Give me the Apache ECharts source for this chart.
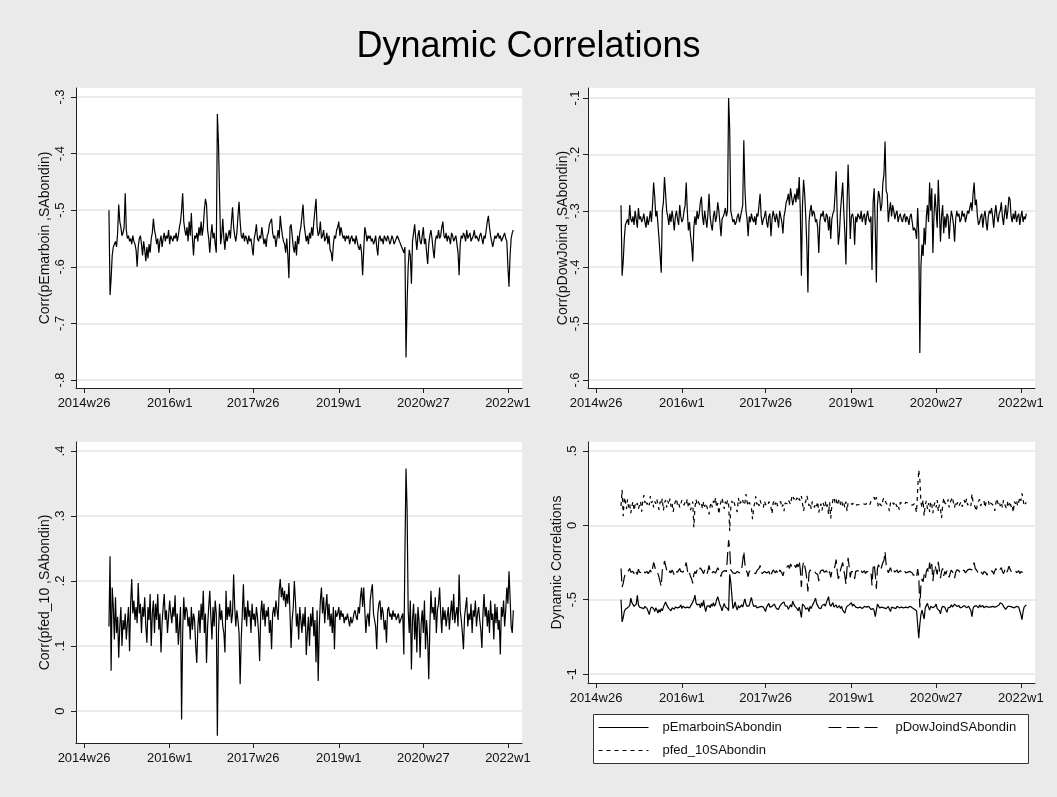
<!DOCTYPE html>
<html lang="en">
<head>
<meta charset="UTF-8">
<title>Dynamic Correlations</title>
<style>
  html, body { margin: 0; padding: 0; background: #eaeaea; }
  #chart { width: 1057px; height: 797px; }
</style>
</head>
<body>
<div id="chart"></div>
<script src="https://cdn.jsdelivr.net/npm/echarts@6.0.0/dist/echarts.min.js"></script>
<script>
// Stata weekly dates: t = (year-1960)*52 + (week-1)
var startWeek = 2856; // 2014w49, first observation
var tickWeeks = [2833, 2912, 2989, 3068, 3146, 3224];
var tickLabels = ['2014w26', '2016w1', '2017w26', '2019w1', '2020w27', '2022w1'];

var ticksEmar = [-0.8, -0.7, -0.6, -0.5, -0.4, -0.3];
var ticksDow = [-0.6, -0.5, -0.4, -0.3, -0.2, -0.1];
var ticksFed = [0, 0.1, 0.2, 0.3, 0.4];
var ticksAll = [-1, -0.5, 0, 0.5];

// pEmarboinSAbondin
var emar = [
  -0.50,-0.65,-0.62,-0.58,-0.565,-0.56,-0.555,-0.565,-0.54,-0.49,-0.52,-0.53,-0.545,-0.54,-0.53,-0.47,-0.535,-0.55,-0.545,-0.555,
  -0.55,-0.56,-0.545,-0.555,-0.56,-0.57,-0.60,-0.565,-0.55,-0.545,-0.56,-0.58,-0.555,-0.57,-0.59,-0.565,-0.585,-0.56,-0.575,-0.55,
  -0.54,-0.515,-0.535,-0.545,-0.56,-0.55,-0.575,-0.555,-0.545,-0.565,-0.55,-0.54,-0.555,-0.545,-0.55,-0.535,-0.56,-0.545,-0.55,-0.555,
  -0.545,-0.55,-0.54,-0.555,-0.545,-0.53,-0.52,-0.50,-0.47,-0.52,-0.535,-0.545,-0.53,-0.555,-0.52,-0.545,-0.505,-0.55,-0.58,-0.545,
  -0.55,-0.54,-0.555,-0.53,-0.545,-0.52,-0.545,-0.53,-0.50,-0.48,-0.49,-0.535,-0.55,-0.575,-0.545,-0.525,-0.55,-0.54,-0.56,-0.575,
  -0.33,-0.38,-0.47,-0.56,
  -0.545,-0.515,-0.55,-0.57,-0.54,-0.555,-0.545,-0.535,-0.55,-0.52,-0.495,-0.53,-0.545,-0.555,-0.54,-0.51,
  -0.485,-0.52,-0.545,-0.55,-0.54,-0.555,-0.545,-0.55,-0.56,-0.545,-0.555,-0.55,-0.565,-0.58,-0.55,-0.54,-0.525,-0.55,-0.555,-0.545,
  -0.55,-0.53,-0.545,-0.56,-0.55,-0.565,-0.545,-0.54,-0.525,-0.52,-0.515,-0.54,-0.55,-0.545,-0.565,-0.55,-0.535,-0.55,-0.51,-0.53,
  -0.545,-0.555,-0.56,-0.575,-0.55,-0.58,-0.62,-0.53,-0.525,-0.545,-0.565,-0.575,-0.555,-0.58,-0.545,-0.56,-0.54,-0.53,-0.51,-0.49,
  -0.525,-0.54,-0.555,-0.545,-0.56,-0.54,-0.55,-0.53,-0.545,-0.52,-0.50,-0.48,-0.53,-0.545,-0.54,-0.52,-0.55,-0.545,-0.535,-0.555,
  -0.55,-0.54,-0.56,-0.545,-0.57,-0.575,-0.59,-0.56,-0.545,-0.55,-0.535,-0.53,-0.52,-0.545,-0.53,-0.54,-0.55,-0.545,-0.555,-0.545,
  -0.55,-0.545,-0.56,-0.55,-0.545,-0.555,-0.55,-0.56,-0.545,-0.555,-0.565,-0.57,-0.56,-0.575,-0.615,-0.57,-0.53,-0.54,-0.555,-0.545,
  -0.55,-0.545,-0.555,-0.55,-0.56,-0.555,-0.545,-0.565,-0.58,-0.55,-0.545,-0.555,-0.55,-0.56,-0.545,-0.55,-0.555,-0.545,-0.55,-0.56,
  -0.555,-0.545,-0.55,-0.56,-0.555,-0.55,-0.545,-0.55,-0.555,-0.56,-0.565,-0.57,-0.575,-0.565,-0.76,-0.665,-0.60,-0.57,-0.58,-0.63,
  -0.555,-0.54,-0.525,-0.55,-0.57,-0.545,-0.535,-0.555,-0.56,-0.545,-0.53,-0.56,-0.55,-0.575,-0.595,-0.56,-0.545,-0.535,-0.55,-0.57,
  -0.585,-0.555,-0.545,-0.55,-0.535,-0.55,-0.545,-0.53,-0.52,-0.545,-0.55,-0.54,-0.555,-0.545,-0.55,-0.56,-0.54,-0.545,-0.555,-0.55,
  -0.545,-0.56,-0.575,-0.615,-0.56,-0.545,-0.55,-0.54,-0.545,-0.555,-0.535,-0.55,-0.545,-0.54,-0.555,-0.55,-0.545,-0.535,-0.55,-0.545,
  -0.55,-0.555,-0.545,-0.54,-0.55,-0.56,-0.545,-0.55,-0.535,-0.52,-0.51,-0.53,-0.545,-0.555,-0.565,-0.555,-0.545,-0.55,-0.545,-0.54,
  -0.55,-0.545,-0.555,-0.55,-0.545,-0.54,-0.55,-0.555,-0.60,-0.635,-0.58,-0.55,-0.54,-0.535
];

// pDowJoindSAbondin
var dow = [
  -0.29,-0.415,-0.39,-0.35,-0.325,-0.32,-0.315,-0.325,-0.29,-0.315,-0.32,-0.31,-0.325,-0.30,-0.315,-0.33,-0.295,-0.315,-0.31,-0.32,
  -0.315,-0.305,-0.32,-0.33,-0.31,-0.325,-0.315,-0.30,-0.32,-0.29,-0.25,-0.275,-0.31,-0.30,-0.325,-0.35,-0.38,-0.41,-0.30,-0.285,
  -0.24,-0.27,-0.30,-0.31,-0.325,-0.305,-0.32,-0.30,-0.315,-0.335,-0.31,-0.30,-0.315,-0.325,-0.29,-0.31,-0.32,-0.315,-0.30,-0.29,
  -0.25,-0.30,-0.335,-0.32,-0.345,-0.36,-0.39,-0.33,-0.31,-0.325,-0.30,-0.315,-0.305,-0.285,-0.275,-0.31,-0.325,-0.30,-0.315,-0.33,
  -0.305,-0.27,-0.31,-0.325,-0.335,-0.31,-0.30,-0.32,-0.31,-0.285,-0.30,-0.32,-0.345,-0.315,-0.31,-0.305,-0.295,-0.31,-0.30,-0.10,
  -0.155,-0.30,-0.31,-0.32,-0.315,-0.325,-0.32,-0.31,-0.305,-0.32,-0.31,-0.30,-0.29,-0.175,-0.26,-0.30,-0.315,-0.345,-0.31,-0.32,
  -0.305,-0.315,-0.32,-0.31,-0.325,-0.305,-0.31,-0.29,-0.27,-0.31,-0.325,-0.315,-0.31,-0.30,-0.32,-0.33,-0.31,-0.305,-0.345,-0.315,
  -0.30,-0.31,-0.32,-0.305,-0.315,-0.33,-0.30,-0.31,-0.32,-0.34,-0.31,-0.30,-0.285,-0.28,-0.27,-0.29,-0.26,-0.275,-0.29,-0.28,
  -0.27,-0.285,-0.26,-0.28,-0.24,-0.30,-0.415,-0.29,-0.245,-0.27,-0.31,-0.36,-0.445,-0.32,-0.30,-0.29,-0.31,-0.30,-0.305,-0.32,
  -0.315,-0.33,-0.375,-0.32,-0.305,-0.31,-0.30,-0.315,-0.32,-0.305,-0.31,-0.335,-0.31,-0.35,-0.315,-0.305,-0.30,-0.27,-0.23,-0.31,
  -0.36,-0.34,-0.30,-0.275,-0.25,-0.30,-0.34,-0.395,-0.29,-0.218,-0.28,-0.35,-0.31,-0.305,-0.315,-0.36,-0.31,-0.32,-0.305,-0.31,
  -0.315,-0.30,-0.32,-0.31,-0.305,-0.325,-0.31,-0.30,-0.315,-0.32,-0.31,-0.405,-0.285,-0.26,-0.33,-0.427,-0.29,-0.265,-0.275,-0.30,
  -0.29,-0.25,-0.235,-0.177,-0.265,-0.27,-0.32,-0.30,-0.285,-0.31,-0.29,-0.30,-0.315,-0.305,-0.30,-0.32,-0.31,-0.305,-0.315,-0.32,
  -0.31,-0.305,-0.32,-0.31,-0.315,-0.325,-0.31,-0.305,-0.32,-0.335,-0.33,-0.335,-0.35,-0.295,-0.34,-0.552,-0.40,-0.36,-0.38,-0.33,
  -0.36,-0.31,-0.29,-0.32,-0.25,-0.30,-0.26,-0.375,-0.31,-0.27,-0.30,-0.33,-0.245,-0.30,-0.355,-0.31,-0.29,-0.34,-0.31,-0.33,
  -0.305,-0.31,-0.35,-0.32,-0.30,-0.31,-0.325,-0.355,-0.315,-0.30,-0.31,-0.305,-0.32,-0.315,-0.30,-0.31,-0.305,-0.32,-0.31,-0.30,
  -0.305,-0.295,-0.285,-0.30,-0.27,-0.25,-0.29,-0.28,-0.31,-0.325,-0.32,-0.31,-0.305,-0.33,-0.31,-0.30,-0.32,-0.335,-0.31,-0.30,
  -0.305,-0.295,-0.31,-0.33,-0.305,-0.29,-0.31,-0.32,-0.305,-0.30,-0.285,-0.31,-0.325,-0.305,-0.29,-0.315,-0.30,-0.275,-0.28,-0.31,
  -0.32,-0.305,-0.315,-0.30,-0.32,-0.31,-0.305,-0.325,-0.31,-0.30,-0.32,-0.31,-0.315,-0.305
];

// pfed_10SAbondin
var fed = [
  0.13,0.238,0.062,0.19,0.16,0.11,0.175,0.12,0.145,0.082,0.13,0.16,0.10,0.14,0.125,0.15,0.11,0.135,0.16,0.092,
  0.165,0.203,0.15,0.17,0.14,0.16,0.135,0.197,0.15,0.165,0.12,0.16,0.145,0.175,0.13,0.105,0.16,0.14,0.18,0.10,
  0.15,0.17,0.12,0.165,0.14,0.18,0.125,0.15,0.09,0.135,0.16,0.18,0.14,0.155,0.12,0.145,0.17,0.15,0.135,0.16,
  0.145,0.178,0.12,0.15,0.102,0.13,0.16,-0.013,0.12,0.175,0.14,0.16,0.155,0.13,0.145,0.11,0.16,0.125,0.15,0.14,
  0.10,0.074,0.13,0.155,0.12,0.165,0.14,0.185,0.12,0.15,0.074,0.13,0.16,0.185,0.145,0.11,0.16,0.13,0.17,0.15,
  -0.038,0.12,0.165,0.14,0.155,0.13,0.12,0.09,0.185,0.14,0.16,0.145,0.17,0.135,0.15,0.21,0.16,0.13,0.155,0.14,
  0.12,0.041,0.11,0.15,0.195,0.14,0.16,0.13,0.17,0.145,0.155,0.12,0.165,0.14,0.15,0.13,0.16,0.145,0.12,0.077,
  0.15,0.17,0.14,0.165,0.13,0.155,0.145,0.16,0.12,0.14,0.095,0.15,0.16,0.145,0.17,0.155,0.14,0.185,0.203,0.175,
  0.19,0.17,0.185,0.16,0.18,0.165,0.197,0.15,0.097,0.14,0.16,0.20,0.17,0.13,0.15,0.11,0.16,0.14,0.12,0.15,
  0.13,0.16,0.086,0.12,0.145,0.10,0.15,0.13,0.16,0.115,0.14,0.075,0.155,0.046,0.13,0.17,0.19,0.15,0.175,0.135,
  0.16,0.18,0.14,0.165,0.13,0.15,0.12,0.16,0.095,0.155,0.145,0.15,0.16,0.14,0.155,0.145,0.15,0.135,0.145,0.14,
  0.15,0.14,0.13,0.145,0.135,0.14,0.15,0.155,0.145,0.14,0.16,0.15,0.175,0.19,0.16,0.19,0.155,0.12,0.145,0.15,
  0.13,0.17,0.185,0.195,0.15,0.14,0.13,0.095,0.15,0.165,0.17,0.14,0.16,0.15,0.125,0.14,0.105,0.155,0.16,0.145,
  0.15,0.14,0.155,0.145,0.15,0.14,0.145,0.15,0.135,0.14,0.145,0.15,0.087,0.24,0.373,0.31,0.155,0.12,0.17,0.064,
  0.14,0.165,0.11,0.15,0.09,0.16,0.14,0.082,0.135,0.155,0.12,0.17,0.095,0.14,0.11,0.049,0.13,0.185,0.15,0.16,
  0.14,0.175,0.12,0.155,0.165,0.19,0.15,0.12,0.16,0.14,0.155,0.13,0.145,0.16,0.125,0.15,0.17,0.14,0.18,0.135,
  0.15,0.16,0.13,0.21,0.155,0.14,0.12,0.095,0.145,0.16,0.175,0.13,0.15,0.14,0.165,0.12,0.155,0.145,0.17,0.13,
  0.15,0.16,0.14,0.125,0.097,0.15,0.18,0.145,0.16,0.13,0.155,0.12,0.17,0.14,0.15,0.11,0.165,0.135,0.16,0.125,
  0.14,0.087,0.16,0.145,0.17,0.13,0.155,0.19,0.165,0.215,0.175,0.13,0.12,0.155
];

var FONT = '"Liberation Sans", Arial, sans-serif';

function pairs(arr) {
  return arr.map(function (v, i) { return [startWeek + i, v]; });
}

function yFmt(v) {
  var s = String(Math.round(v * 10) / 10);
  return s.replace('0.', '.');
}

function xAxis(idx) {
  return {
    type: 'value', gridIndex: idx, min: 2825.6, max: 3237,
    axisLine: { onZero: false, lineStyle: { color: '#222', width: 1 } },
    axisTick: { customValues: tickWeeks, length: 5, lineStyle: { color: '#222' } },
    axisLabel: {
      customValues: tickWeeks, margin: 9, color: '#111', fontSize: 13, fontFamily: FONT,
      formatter: function (v) { return tickLabels[tickWeeks.indexOf(Math.round(v))]; }
    },
    splitLine: { show: false }
  };
}

function yAxis(idx, min, max, ticks, name, gap, margin, split) {
  return {
    type: 'value', gridIndex: idx, min: min, max: max, splitNumber: split,
    name: name, nameLocation: 'middle', nameGap: gap, nameRotate: 90, nameMoveOverlap: false,
    nameTextStyle: { fontSize: 14, color: '#111', fontFamily: FONT },
    axisLine: { show: true, onZero: false, lineStyle: { color: '#222', width: 1 } },
    axisTick: { show: true, customValues: ticks, length: 5, lineStyle: { color: '#222' } },
    axisLabel: {
      customValues: ticks, rotate: 90, margin: margin, color: '#111', fontSize: 13, fontFamily: FONT,
      formatter: yFmt
    },
    splitLine: { show: true, lineStyle: { color: '#e4e4e4', width: 1.5 } }
  };
}

function line(name, data, xi, yi, dash) {
  return {
    name: name, type: 'line', xAxisIndex: xi, yAxisIndex: yi,
    data: pairs(data), symbol: 'none', showSymbol: false,
    lineStyle: { color: '#000', width: 1.2, type: dash || 'solid' },
    itemStyle: { color: '#000' },
    animation: false, silent: true
  };
}

function legendItem(name, left, top, gap) {
  return {
    data: [name], left: left, top: top, padding: 0, itemWidth: 50, itemHeight: 14,
    itemStyle: { opacity: 0 },
    lineStyle: { width: 1 },
    textStyle: { fontSize: 13, color: '#111', fontFamily: FONT, padding: [0, 0, 0, gap] },
    selectedMode: false
  };
}

var chart = echarts.init(document.getElementById('chart'));
chart.setOption({
  backgroundColor: '#eaeaea',
  animation: false,
  title: {
    text: 'Dynamic Correlations', left: 'center', top: 24,
    textStyle: { fontSize: 36, fontWeight: 'normal', color: '#000', fontFamily: FONT }
  },
  grid: [
    { left: 76, top: 88, width: 446, height: 300, show: true, backgroundColor: '#fff', borderWidth: 0 },
    { left: 588, top: 88, width: 447, height: 300, show: true, backgroundColor: '#fff', borderWidth: 0 },
    { left: 76, top: 442, width: 446, height: 301, show: true, backgroundColor: '#fff', borderWidth: 0 },
    { left: 588, top: 442, width: 447, height: 241, show: true, backgroundColor: '#fff', borderWidth: 0 }
  ],
  xAxis: [xAxis(0), xAxis(1), xAxis(2), xAxis(3)],
  yAxis: [
    yAxis(0, -0.8141, -0.2841, ticksEmar, 'Corr(pEmarboin ,SAbondin)', 24, 9, 5),
    yAxis(1, -0.6142, -0.0823, ticksDow, 'Corr(pDowJoind ,SAbondin)', 18, 6, 5),
    yAxis(2, -0.0492, 0.4138, ticksFed, 'Corr(pfed_10 ,SAbondin)', 24, 9, 5),
    yAxis(3, -1.0605, 0.5605, ticksAll, 'Dynamic Correlations', 24, 9, 3)
  ],
  legend: [
    legendItem('pEmarboinSAbondin', 598, 721, 9),
    legendItem('pDowJoindSAbondin', 828, 721, 12),
    legendItem('pfed_10SAbondin', 598, 744, 9)
  ],
  graphic: [
    { type: 'rect', z: 0, shape: { x: 593.5, y: 714.5, width: 435, height: 49 },
      style: { fill: '#fff', stroke: '#333', lineWidth: 1 } }
  ],
  series: [
    line('Corr(pEmarboin ,SAbondin)', emar, 0, 0),
    line('Corr(pDowJoind ,SAbondin)', dow, 1, 1),
    line('Corr(pfed_10 ,SAbondin)', fed, 2, 2),
    line('pEmarboinSAbondin', emar, 3, 3),
    line('pDowJoindSAbondin', dow, 3, 3, [13, 5]),
    line('pfed_10SAbondin', fed, 3, 3, [4, 4])
  ]
});
</script>
</body>
</html>
